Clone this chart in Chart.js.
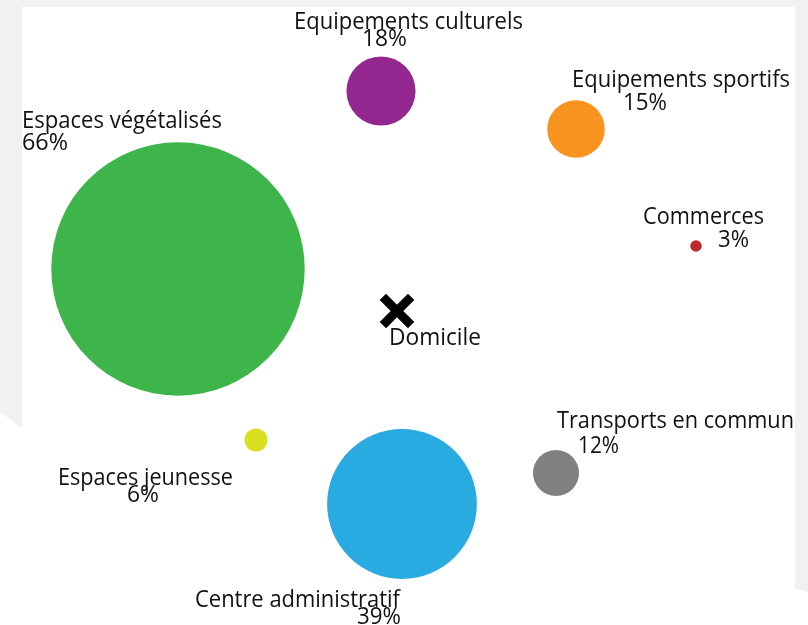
<!DOCTYPE html>
<html>
<head>
<meta charset="utf-8">
<script src="https://cdn.jsdelivr.net/npm/chart.js@4"></script>
<style>
  body { margin: 0; background: #f1f1f1; }
  canvas { display: block; }
</style>
</head>
<body>
<canvas id="accessChart" width="808" height="625"></canvas>
<script>
//################### Data ###################
const categories = ['Espaces végétalisés', 'Equipements culturels', 'Equipements sportifs', 'Commerces',
    'Transports en commun', 'Centre administratif', 'Espaces jeunesse'];
const shares = [66, 18, 15, 3, 12, 39, 6];
// map position of each facility (same units as the map, home near the middle)
const posX = [178, 381, 576, 696, 556, 402, 256];
const posY = [269, 91, 129, 246, 473, 504, 440];
const colors = ['#3db54a', '#93278f', '#f7931e', '#c1272d', '#808080', '#29abe2', '#d9e021'];
const homeLabel = 'Domicile';
const homeX = [397];
const homeY = [311];

const radiusPerPercent = 1.92;

//################### Label layout (left x, baseline y, width) ###################
const nameLayout = [
    [22, 128, 200], [294, 29, 229], [572, 87, 218], [643, 224, 121],
    [557, 428, 237], [195, 607, 205], [58, 485, 175]
];
const pctLayout = [
    [22, 150, 46], [362, 46, 45], [623, 110, 44], [718, 247, 31],
    [578, 453, 41], [357, 624, 44], [127, 502, 32]
];
const homeLayout = [389, 345, 92];

function drawText(ctx, text, x, y, width) {
    ctx.save();
    ctx.font = '23px "Open Sans"';
    const w = ctx.measureText(text).width;
    ctx.translate(x, y);
    ctx.scale(width / w, 1);
    ctx.fillStyle = '#111111';
    ctx.textBaseline = 'alphabetic';
    ctx.fillText(text, 0, 0);
    ctx.restore();
}

const backgroundPlugin = {
    id: 'paperBackground',
    beforeDraw(chart) {
        const ctx = chart.ctx;
        ctx.save();
        ctx.fillStyle = '#f1f1f1';
        ctx.fillRect(0, 0, chart.width, chart.height);
        ctx.fillStyle = '#ffffff';
        ctx.beginPath();
        ctx.moveTo(22, 7);
        ctx.lineTo(795, 7);
        ctx.lineTo(795, 588);
        ctx.lineTo(808, 592);
        ctx.lineTo(808, 625);
        ctx.lineTo(0, 625);
        ctx.lineTo(0, 412);
        ctx.lineTo(22, 428);
        ctx.closePath();
        ctx.fill();
        ctx.restore();
    }
};

const labelPlugin = {
    id: 'bubbleLabels',
    afterDatasetsDraw(chart) {
        const ctx = chart.ctx;
        categories.forEach((name, i) => {
            drawText(ctx, name, nameLayout[i][0], nameLayout[i][1], nameLayout[i][2]);
            drawText(ctx, shares[i] + '%', pctLayout[i][0], pctLayout[i][1], pctLayout[i][2]);
        });
        drawText(ctx, homeLabel, homeLayout[0], homeLayout[1], homeLayout[2]);
    }
};

//################### Bubble chart ###################
const ctx = document.getElementById('accessChart').getContext('2d');
new Chart(ctx, {
    type: 'bubble',
    data: {
        datasets: [{
            label: 'Equipements',
            data: categories.map((c, i) => ({ x: posX[i], y: posY[i], r: shares[i] * radiusPerPercent })),
            backgroundColor: colors,
            borderWidth: 0,
            hoverBorderWidth: 0,
            clip: false
        }, {
            label: homeLabel,
            data: homeX.map((x, i) => ({ x: x, y: homeY[i], r: 20 })),
            pointStyle: 'crossRot',
            backgroundColor: '#000000',
            borderColor: '#000000',
            borderWidth: 9,
            clip: false
        }]
    },
    options: {
        responsive: false,
        animation: false,
        layout: { padding: 0, autoPadding: false },
        plugins: {
            legend: { display: false },
            tooltip: { enabled: false }
        },
        scales: {
            x: { type: 'linear', min: 0, max: 808, display: false },
            y: { type: 'linear', min: 0, max: 625, reverse: true, display: false }
        }
    },
    plugins: [backgroundPlugin, labelPlugin]
});
</script>
</body>
</html>
